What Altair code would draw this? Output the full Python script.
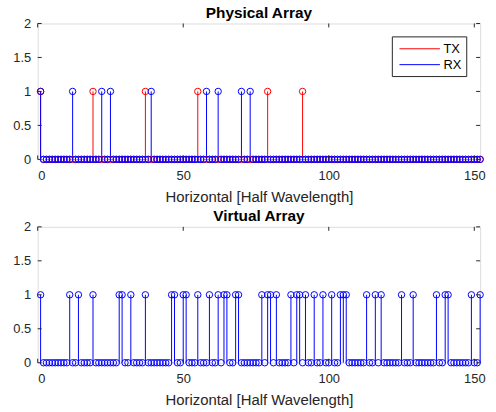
import altair as alt
import pandas as pd

N = 152
tx_pos = [1, 19, 37, 55, 79, 91]
rx_pos = [1, 12, 22, 25, 39, 58, 62, 70, 73]
virtual_pos = [1, 11, 14, 19, 28, 29, 32, 37, 46, 47, 50, 51, 55, 59, 62, 64, 65,
               68, 69, 77, 79, 80, 82, 87, 89, 90, 92, 95, 98, 101, 104, 105, 106,
               113, 116, 118, 125, 129, 137, 140, 141, 149, 152]
x_ticks = [0, 50, 100, 150]
y_ticks = [0, 0.5, 1, 1.5, 2]

W, H = 446, 137
FONT = "Liberation Sans"
AX = "#262626"
RED = "#FF0000"
BLUE = "#0000FF"

idx = list(range(1, N + 1))


def series(pos, name):
    return pd.DataFrame({"x": idx, "y": [1 if i in pos else 0 for i in idx], "s": name})


xscale = alt.Scale(domain=[0, N], nice=False, zero=False)
yscale = alt.Scale(domain=[0, 2], nice=False)
xaxis = alt.Axis(values=x_ticks, title="Horizontal [Half Wavelength]", grid=False,
                 ticks=False, domain=False, labelPadding=10, titlePadding=7,
                 labelFont=FONT, titleFont=FONT, labelFontSize=13, titleFontSize=15,
                 labelColor=AX, titleColor=AX, titleFontWeight="normal")
yaxis = alt.Axis(values=y_ticks, title=None, grid=False, ticks=False, domain=False,
                 format="~g", labelPadding=7, labelFont=FONT, labelFontSize=13,
                 labelColor=AX)


def tick_layers():
    xt = pd.DataFrame({"t": x_ticks})
    yt = pd.DataFrame({"t": y_ticks})
    b = alt.Chart(xt).mark_rule(color=AX, strokeWidth=1).encode(
        x=alt.X("t:Q", scale=xscale, axis=xaxis), y=alt.value(H), y2=alt.value(H - 4))
    t = alt.Chart(xt).mark_rule(color=AX, strokeWidth=1).encode(
        x=alt.X("t:Q", scale=xscale, axis=xaxis), y=alt.value(0), y2=alt.value(4))
    l = alt.Chart(yt).mark_rule(color=AX, strokeWidth=1).encode(
        y=alt.Y("t:Q", scale=yscale, axis=yaxis), x=alt.value(0), x2=alt.value(4))
    r = alt.Chart(yt).mark_rule(color=AX, strokeWidth=1).encode(
        y=alt.Y("t:Q", scale=yscale, axis=yaxis), x=alt.value(W), x2=alt.value(W - 4))
    return [b, t, l, r]


def stems(df, colors, legend):
    domain = list(dict.fromkeys(df["s"]))
    rules = alt.Chart(df).mark_rule(strokeWidth=1).encode(
        x=alt.X("x:Q", scale=xscale, axis=xaxis),
        y=alt.Y("y:Q", scale=yscale, axis=yaxis),
        y2=alt.datum(0),
        color=alt.Color("s:N", scale=alt.Scale(domain=domain, range=colors),
                        legend=legend, sort=domain),
    )
    layers = [rules]
    for name, c in zip(domain, colors):
        sub = df[df["s"] == name]
        layers.append(alt.Chart(sub).mark_point(shape="circle", filled=False, size=42,
                                                strokeWidth=1, color=c, opacity=1).encode(
            x=alt.X("x:Q", scale=xscale, axis=xaxis),
            y=alt.Y("y:Q", scale=yscale, axis=yaxis),
        ))
    return layers


def title(text):
    return alt.TitleParams(text, font=FONT, fontSize=15.5, fontWeight="bold",
                           color="#000000", offset=-4)


phys = pd.concat([series(tx_pos, "TX"), series(rx_pos, "RX")], ignore_index=True)
virt = series(virtual_pos, "Virtual")

legend = alt.Legend(title=None, orient="none", legendX=357, legendY=13,
                    symbolType="M-0.6,0H4.5", symbolSize=256, symbolStrokeWidth=1,
                    labelFont=FONT, labelFontSize=13, labelColor="#000000",
                    labelExpr="datum.label + '    '",
                    strokeColor=AX, fillColor="white", padding=4, rowPadding=0,
                    labelOffset=31)

top = alt.layer(*stems(phys, [RED, BLUE], legend), *tick_layers()).properties(
    width=W, height=H, title=title("Physical Array"))
bottom = alt.layer(*stems(virt, [BLUE], None), *tick_layers()).properties(
    width=W, height=H, title=title("Virtual Array"))

chart = alt.vconcat(top, bottom, spacing=4).resolve_scale(
    color="independent").configure_view(
    stroke=AX, strokeWidth=1).configure(background="white").properties(
    padding={"left": 12, "top": 4, "right": 10, "bottom": 5})

chart.save("out.html", embed_options={"renderer": "svg", "actions": False})
